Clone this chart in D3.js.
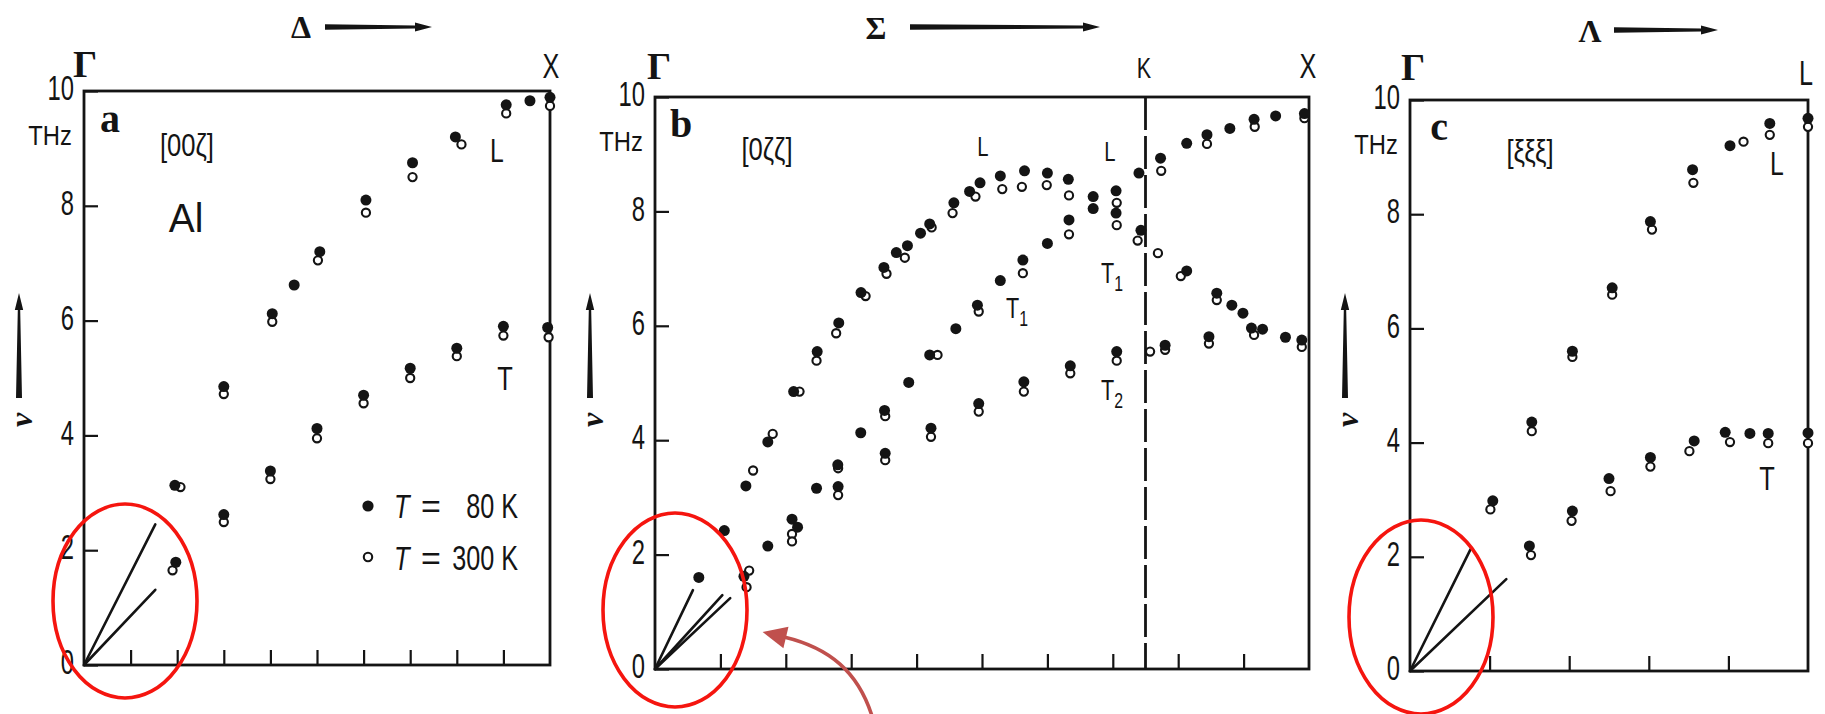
<!DOCTYPE html>
<html>
<head>
<meta charset="utf-8">
<script src="https://cdn.jsdelivr.net/npm/d3@7"></script>
<style>
  html, body { margin: 0; background: #fff; }
  svg { display: block; }
</style>
</head>
<body>
<svg id="chart" width="1825" height="714"></svg>
<script>
// ---------------------------------------------------------------
// Phonon dispersion of Al at 80 K (filled) and 300 K (open).
// Each point is [reduced wave vector ζ, frequency ν in THz].
// ---------------------------------------------------------------
const FREQ_TICKS = [0, 2, 4, 6, 8, 10];
const Q_TICKS_FULL = [0.1, 0.2, 0.3, 0.4, 0.5, 0.6, 0.7, 0.8, 0.9];
const Q_TICKS_HALF = [0.1, 0.2, 0.3, 0.4];

// (a) [00ζ], Γ → X
const a80 = [
  [0.195, 3.13], [0.3, 4.85], [0.404, 6.12], [0.451, 6.62], [0.506, 7.2], [0.605, 8.1],
  [0.705, 8.75], [0.797, 9.2], [0.906, 9.76], [0.957, 9.83], [1.0, 9.89],
  [0.197, 1.79], [0.3, 2.62], [0.4, 3.38], [0.5, 4.12], [0.6, 4.7], [0.7, 5.17],
  [0.8, 5.52], [0.9, 5.9], [0.995, 5.88]
];
const a300 = [
  [0.207, 3.1], [0.3, 4.72], [0.404, 5.98], [0.502, 7.05], [0.605, 7.88], [0.705, 8.5],
  [0.81, 9.07], [0.906, 9.61], [1.0, 9.74],
  [0.19, 1.65], [0.3, 2.49], [0.4, 3.24], [0.5, 3.95], [0.6, 4.56], [0.7, 5.0],
  [0.8, 5.38], [0.9, 5.74], [0.997, 5.71]
];
const aSound = [[0.153, 2.45], [0.153, 1.31]];

// (b) [0ζζ], Γ → K → X
const b80 = [
  [0.067, 1.6], [0.106, 2.42], [0.139, 3.2], [0.1725, 3.97], [0.212, 4.85], [0.248, 5.55],
  [0.281, 6.05], [0.315, 6.58], [0.35, 7.02], [0.369, 7.28], [0.386, 7.4], [0.406, 7.62],
  [0.42, 7.78], [0.457, 8.15], [0.481, 8.35], [0.497, 8.5], [0.528, 8.62], [0.565, 8.71],
  [0.6, 8.67], [0.632, 8.56], [0.67, 8.26], [0.705, 7.97], [0.743, 7.67],
  [0.136, 1.62], [0.2095, 2.62], [0.247, 3.16], [0.2795, 3.57], [0.3146, 4.13], [0.351, 4.52],
  [0.388, 5.01], [0.42, 5.49], [0.46, 5.95], [0.493, 6.36], [0.528, 6.79], [0.5625, 7.15],
  [0.6, 7.44], [0.633, 7.85], [0.67, 8.05], [0.705, 8.36], [0.74, 8.67],
  [0.1725, 2.15], [0.218, 2.48], [0.28, 3.19], [0.352, 3.77], [0.422, 4.21], [0.495, 4.64],
  [0.564, 5.02], [0.635, 5.3], [0.706, 5.55],
  [0.773, 8.93], [0.813, 9.19], [0.844, 9.34], [0.879, 9.45], [0.916, 9.61], [0.949, 9.67], [0.993, 9.71],
  [0.813, 6.96], [0.859, 6.57], [0.882, 6.36], [0.899, 6.22], [0.912, 5.96], [0.929, 5.94],
  [0.964, 5.8], [0.989, 5.75], [0.78, 5.66], [0.847, 5.81]
];
const b300 = [
  [0.15, 3.47], [0.18, 4.11], [0.221, 4.85], [0.247, 5.39], [0.277, 5.87], [0.322, 6.52],
  [0.354, 6.91], [0.382, 7.19], [0.423, 7.72], [0.455, 7.97], [0.49, 8.26], [0.531, 8.39],
  [0.561, 8.43], [0.599, 8.46], [0.633, 8.28], [0.706, 8.15], [0.706, 7.76], [0.738, 7.49],
  [0.144, 1.72], [0.14, 1.43], [0.2095, 2.36], [0.2095, 2.23], [0.28, 3.51], [0.28, 3.04],
  [0.352, 4.42], [0.352, 3.65], [0.432, 5.49], [0.422, 4.06], [0.495, 6.25], [0.495, 4.5],
  [0.5625, 6.92], [0.564, 4.85], [0.633, 7.6], [0.635, 5.17], [0.706, 5.39], [0.757, 5.55], [0.78, 5.58],
  [0.774, 8.71], [0.844, 9.18], [0.917, 9.48], [0.993, 9.63], [0.769, 7.27], [0.804, 6.87],
  [0.859, 6.45], [0.916, 5.84], [0.989, 5.63], [0.847, 5.69]
];
const bSound = [[0.058, 1.38], [0.103, 1.29], [0.115, 1.24]];

// (c) [ξξξ], Γ → L
const c80 = [
  [0.104, 2.98], [0.153, 4.36], [0.204, 5.6], [0.254, 6.71], [0.302, 7.87], [0.355, 8.78],
  [0.402, 9.2], [0.452, 9.59], [0.5, 9.68],
  [0.15, 2.19], [0.204, 2.8], [0.25, 3.37], [0.302, 3.74], [0.357, 4.03], [0.396, 4.18],
  [0.427, 4.16], [0.45, 4.16], [0.5, 4.17]
];
const c300 = [
  [0.101, 2.83], [0.153, 4.2], [0.204, 5.5], [0.254, 6.59], [0.304, 7.73], [0.356, 8.55],
  [0.419, 9.27], [0.452, 9.39], [0.5, 9.53],
  [0.152, 2.03], [0.203, 2.63], [0.252, 3.15], [0.302, 3.58], [0.351, 3.85], [0.402, 4.01],
  [0.45, 3.99], [0.5, 3.99]
];
const cSound = [[0.076, 2.13], [0.121, 1.61]];

// ---------------------------------------------------------------
const INK = "#141414";
const SANS = "'Liberation Sans', Arimo, Arial, sans-serif";
const SERIF = "'Liberation Serif', 'DejaVu Serif', serif";
const svg = d3.select("#chart");

function txt(parent, x, y, str, o = {}) {
  const t = parent.append("text")
    .attr("transform", `translate(${x},${y})` + (o.rot ? ` rotate(${o.rot})` : "") + ` scale(${o.sx ?? 1},1)`)
    .attr("text-anchor", o.anchor || "middle")
    .attr("font-family", o.family || SANS)
    .attr("font-size", o.size || 30)
    .attr("font-weight", o.weight || "normal")
    .attr("font-style", o.style || "normal")
    .attr("fill", INK);
  if (str !== null) t.text(str);
  return t;
}

// label with a subscript, e.g. T₁
function subLabel(parent, x, y, main, sub) {
  const t = txt(parent, x, y, null, { size: 30, sx: 0.72, anchor: "start" });
  t.append("tspan").text(main);
  t.append("tspan").attr("font-size", 22).attr("dy", 8).text(sub);
}

// tapered horizontal arrow pointing right
function hArrow(g, x0, x1, y) {
  const h = x1 - 17;
  g.append("path")
    .attr("d", `M${x0},${y - 2.7} L${h},${y - 1.5} L${h},${y - 4.6} L${x1},${y} L${h},${y + 4.6} L${h},${y + 1.5} L${x0},${y + 2.7} Z`)
    .attr("fill", INK);
}

// tapered vertical arrow pointing up
function vArrow(g, x, yb, yt) {
  const h = yt + 17;
  g.append("path")
    .attr("d", `M${x - 3},${yb} L${x - 1.2},${h} L${x - 4.2},${h} L${x},${yt} L${x + 4.2},${h} L${x + 1.2},${h} L${x + 3},${yb} Z`)
    .attr("fill", INK);
}

function drawPanel(p) {
  const g = svg.append("g");
  const x = d3.scaleLinear().domain([0, p.qMax]).range([p.x0, p.x1]);
  const y = d3.scaleLinear().domain([0, 10]).range([p.yb, p.yt]);

  // frequency axis: inner ticks, condensed labels
  const LSX = 0.68;
  g.append("g")
    .attr("transform", `translate(${p.x0},0)`)
    .call(d3.axisLeft(y).tickValues(FREQ_TICKS).tickSizeInner(-14).tickSizeOuter(0)
      .tickPadding(10).tickFormat(d3.format("d")))
    .call(s => s.select(".domain").remove())
    .call(s => s.selectAll(".tick line").attr("stroke", INK).attr("stroke-width", 2.2))
    .call(s => s.selectAll(".tick text")
      .attr("fill", INK).attr("font-family", SANS).attr("font-size", 35)
      .attr("x", -10 / LSX).attr("dy", "0.25em")
      .attr("transform", `scale(${LSX},1)`));

  // wave-vector axis: inner ticks only
  g.append("g")
    .attr("transform", `translate(0,${p.yb})`)
    .call(d3.axisBottom(x).tickValues(p.qTicks).tickSizeInner(-15).tickSizeOuter(0).tickFormat(""))
    .call(s => s.select(".domain").remove())
    .call(s => s.selectAll(".tick line").attr("stroke", INK).attr("stroke-width", 2.2));

  // frame
  g.append("rect")
    .attr("x", p.x0).attr("y", p.yt)
    .attr("width", p.x1 - p.x0).attr("height", p.yb - p.yt)
    .attr("fill", "none").attr("stroke", INK).attr("stroke-width", 2.8);

  // K point marker
  if (p.kAt !== undefined) {
    g.append("line")
      .attr("x1", x(p.kAt)).attr("x2", x(p.kAt))
      .attr("y1", p.yt).attr("y2", p.yb)
      .attr("stroke", INK).attr("stroke-width", 2.8)
      .attr("stroke-dasharray", "33,6");
  }

  // sound-velocity lines from Γ
  g.selectAll("line.sound").data(p.sound).join("line")
    .attr("class", "sound")
    .attr("x1", x(0)).attr("y1", y(0))
    .attr("x2", d => x(d[0])).attr("y2", d => y(d[1]))
    .attr("stroke", INK).attr("stroke-width", 2.6).attr("stroke-linecap", "round");

  // 300 K, open circles
  g.selectAll("circle.warm").data(p.open).join("circle")
    .attr("class", "warm")
    .attr("cx", d => x(d[0])).attr("cy", d => y(d[1])).attr("r", 4.1)
    .attr("fill", "#fff").attr("stroke", INK).attr("stroke-width", 2.1);

  // 80 K, filled circles
  g.selectAll("circle.cold").data(p.filled).join("circle")
    .attr("class", "cold")
    .attr("cx", d => x(d[0])).attr("cy", d => y(d[1])).attr("r", 5.5)
    .attr("fill", INK);

  // "THz" unit and the rotated ν label with its arrow
  txt(g, p.x0 - 34, p.yt + 54, "THz", { size: 28, sx: 0.85 });
  vArrow(g, p.x0 - 65, 398, 293);
  txt(g, p.x0 - 52, 420, "ν", { size: 32, family: SERIF, style: "italic", weight: "bold", rot: -90 });

  // Γ at the origin end of the axis
  txt(g, p.x0 + p.gammaDx, p.gammaY, "Γ", { size: 38, family: SERIF, weight: "bold" });

  return { g, x, y };
}

// ---------------------------------------------------------------
// (a)
const A = drawPanel({
  x0: 84, x1: 550, yb: 665, yt: 91, qMax: 1, qTicks: Q_TICKS_FULL, gammaY: 77, gammaDx: 1,
  filled: a80, open: a300, sound: aSound
});
txt(A.g, 551, 78, "X", { size: 35, sx: 0.72 });
txt(A.g, 301, 38, "Δ", { size: 32, family: SERIF, weight: "bold" });
hArrow(A.g, 325, 432, 27);
txt(A.g, 110, 132, "a", { size: 40, family: SERIF, weight: "bold" });
txt(A.g, 187, 156, "[00ζ]", { size: 32, sx: 0.8 });
txt(A.g, 186, 232, "Al", { size: 41, sx: 0.95 });
txt(A.g, 497, 162, "L", { size: 33, sx: 0.75 });
txt(A.g, 505, 390, "T", { size: 34, sx: 0.75 });

// legend
A.g.append("circle").attr("cx", 368).attr("cy", 506).attr("r", 5.6).attr("fill", INK);
A.g.append("circle").attr("cx", 368).attr("cy", 557).attr("r", 4.2)
  .attr("fill", "#fff").attr("stroke", INK).attr("stroke-width", 2.1);
[[518, "80 K"], [570, "300 K"]].forEach(([yy, s]) => {
  txt(A.g, 394, yy, "T", { size: 34, sx: 0.75, style: "italic", anchor: "start" });
  txt(A.g, 431, yy, "=", { size: 34, sx: 1.0 });
  txt(A.g, 518, yy, s, { size: 35, sx: 0.72, anchor: "end" });
});

// (b)
const B = drawPanel({
  x0: 655, x1: 1309, yb: 669, yt: 97, qMax: 1, qTicks: Q_TICKS_FULL, kAt: 0.75, gammaY: 79, gammaDx: 4,
  filled: b80, open: b300, sound: bSound
});
txt(B.g, 1144, 78, "K", { size: 30, sx: 0.72 });
txt(B.g, 1308, 78, "X", { size: 35, sx: 0.72 });
txt(B.g, 876, 39, "Σ", { size: 32, family: SERIF, weight: "bold" });
hArrow(B.g, 910, 1100, 27);
txt(B.g, 681, 137, "b", { size: 40, family: SERIF, weight: "bold" });
txt(B.g, 767, 160, "[0ζζ]", { size: 32, sx: 0.8 });
txt(B.g, 983, 156, "L", { size: 27, sx: 0.75 });
txt(B.g, 1110, 161, "L", { size: 27, sx: 0.75 });
subLabel(B.g, 1006, 318, "T", "1");
subLabel(B.g, 1101, 283, "T", "1");
subLabel(B.g, 1101, 400, "T", "2");

// (c)
const C = drawPanel({
  x0: 1410, x1: 1808, yb: 671, yt: 100, qMax: 0.5, qTicks: Q_TICKS_HALF, gammaY: 80, gammaDx: 3,
  filled: c80, open: c300, sound: cSound
});
txt(C.g, 1806, 85, "L", { size: 35, sx: 0.72 });
txt(C.g, 1590, 42, "Λ", { size: 32, family: SERIF, weight: "bold" });
hArrow(C.g, 1614, 1718, 30);
txt(C.g, 1439, 140, "c", { size: 40, family: SERIF, weight: "bold" });
txt(C.g, 1530, 162, "[ξξξ]", { size: 32, sx: 0.8 });
txt(C.g, 1777, 175, "L", { size: 33, sx: 0.75 });
txt(C.g, 1767, 490, "T", { size: 34, sx: 0.75 });

// ---------------------------------------------------------------
// red rings around the long-wavelength (sound) region of each panel
const rings = svg.append("g").attr("fill", "none").attr("stroke", "#f5150f").attr("stroke-width", 3.6);
[[125, 601], [675, 610], [1421, 617]].forEach(([cx, cy]) => {
  rings.append("ellipse").attr("cx", cx).attr("cy", cy).attr("rx", 72).attr("ry", 97);
});

// curved pointer toward ring (b)
const ARROW_RED = "#c0504d";
const p0 = [872, 716], c1 = [858, 672], c2 = [830, 648], p3 = [784, 637];
svg.append("path")
  .attr("d", `M${p0} C${c1} ${c2} ${p3}`)
  .attr("fill", "none").attr("stroke", ARROW_RED).attr("stroke-width", 3.6);
{
  const dx = p3[0] - c2[0], dy = p3[1] - c2[1], L = Math.hypot(dx, dy);
  const ux = dx / L, uy = dy / L, px = -uy, py = ux;
  const tip = [p3[0] + ux * 22, p3[1] + uy * 22];
  const back = [p3[0] - ux * 2, p3[1] - uy * 2];
  svg.append("path")
    .attr("d", `M${tip} L${back[0] + px * 11},${back[1] + py * 11} L${back[0] - px * 11},${back[1] - py * 11} Z`)
    .attr("fill", ARROW_RED);
}
</script>
</body>
</html>
